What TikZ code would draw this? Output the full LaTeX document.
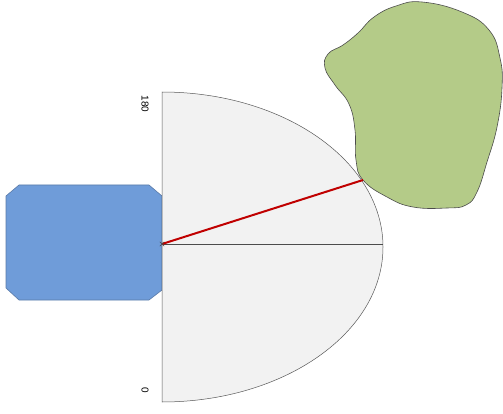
\documentclass[tikz,border=0pt]{standalone}
\usepackage{fontspec}
\setmainfont{Liberation Sans}
\newfontfamily\lblfont{Liberation Sans}
\usetikzlibrary{shapes.misc}
\begin{document}
\begin{tikzpicture}[x=1pt,y=-1pt,
  gauge/.style={draw=black!65, fill=black!5, line width=0.5pt},
  blueshape/.style={draw=blueB, fill=blueA, line width=0.6pt},
  blob/.style={draw=black!70, fill=greenA, line width=0.6pt},
  needle/.style={draw=redA, line width=2pt},
  lbl/.style={font=\lblfont\fontsize{10}{11}\selectfont, rotate=-90, inner sep=0pt}]
\definecolor{blueA}{HTML}{6F9CD9}
\definecolor{blueB}{HTML}{5A7AA8}
\definecolor{greenA}{HTML}{B4CB88}
\definecolor{redA}{HTML}{C00000}
\useasboundingbox (0,0) rectangle (503,414);
% blue octagon
\draw[blueshape] (19,185) -- (149,185) -- (162,196) -- (162,290) -- (149,300) -- (19,300) -- (6,288) -- (6,196) -- cycle;
% gauge half ellipse
\draw[gauge] (162,92) arc[start angle=-90, end angle=90, x radius=221, y radius=155] -- cycle;
\coordinate (c) at (162,244);
\coordinate (r) at (383,244);
\coordinate (tip) at (363,180);
\draw[black!70, line width=0.5pt] (c) -- (r);
% green blob
\draw[blob] plot[smooth cycle, tension=0.75] coordinates {
 (422,2) (462,12) (489,30) (500,58) (502,88) (497,127) (487,162) (477,192)
 (466,205) (447,208) (413,207) (387,197) (363,180) (356,160) (355,130)
 (349,104) (335,85) (325,68) (328,54) (343,45) (358,33) (374,17) (396,6)};
\draw[needle] (c) -- (tip);
\node[draw=black!70, line width=0.4pt, minimum size=4pt, inner sep=0pt, cross out] (m) at (c) {};
\node[lbl] (l180) at (145,104) {180};
\node[lbl] (l0) at (145,390) {0};
\end{tikzpicture}
\end{document}
